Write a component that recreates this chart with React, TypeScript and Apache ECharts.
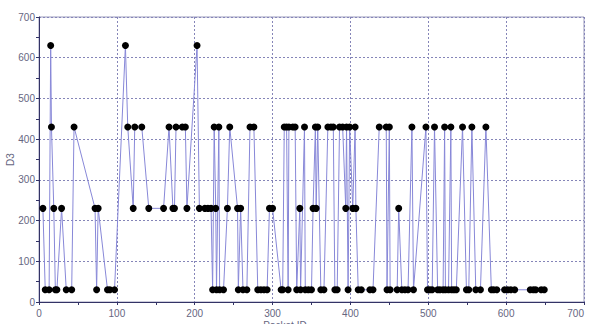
import React, { useEffect, useRef } from "react";
import * as echarts from "echarts";

const packetIds: number[] = [
  5, 8, 13, 15, 16, 19, 21, 23, 29, 35, 42, 45, 72, 74, 76, 88, 91, 97,
  111, 114, 121, 123, 132, 141,
  160, 167, 172, 174, 176, 184, 188, 190, 203, 206, 213, 217, 221, 223, 225, 227, 228, 231, 232, 237, 242, 245,
  255, 256, 259, 262, 267, 271, 276, 281, 285, 289, 293, 296, 300,
  311, 313, 315, 318, 320, 321, 326, 329, 331, 335, 336, 341, 342, 346, 350, 352, 355, 356, 358, 362, 366,
  371, 375, 378, 380, 383, 386, 390, 394, 395, 397, 399, 403, 406, 407, 410, 414,
  425, 429, 437, 446, 447, 450, 451, 460, 462, 466, 470, 474, 479, 481,
  497, 499, 502, 505, 508, 512, 515, 519, 521, 522, 526, 529, 530, 533, 536, 544, 549, 552, 556, 561, 567, 574,
  581, 584, 588, 598, 602, 606, 611, 631, 635, 638, 645, 649,
];

const d3Values: number[] = [
  230, 30, 30, 630, 430, 230, 30, 30, 230, 30, 30, 430, 230, 30, 230, 30, 30, 30,
  630, 430, 230, 430, 430, 230,
  230, 430, 230, 230, 430, 430, 430, 230, 630, 230, 230, 230, 230, 30, 430, 230, 30, 430, 30, 30, 230, 430,
  230, 30, 230, 30, 30, 430, 430, 30, 30, 30, 30, 230, 230,
  30, 30, 430, 430, 30, 430, 430, 430, 30, 230, 30, 430, 30, 30, 30, 230, 430, 230, 430, 30, 30,
  430, 430, 430, 30, 30, 430, 430, 230, 430, 30, 430, 230, 430, 230, 30, 30,
  30, 30, 430, 430, 30, 430, 30, 30, 230, 30, 30, 30, 430, 30,
  430, 30, 30, 30, 430, 30, 30, 30, 430, 30, 30, 430, 30, 30, 30, 430, 30, 30, 430, 30, 30, 430,
  30, 30, 30, 30, 30, 30, 30, 30, 30, 30, 30, 30,
];

const axisColor = "#333366";
const labelColor = "#66667f";
const gridColor = "#8585b8";
const fontFamily = "'Liberation Sans Narrow', 'Liberation Sans', Arial, sans-serif";

export default function App() {
  const ref = useRef<HTMLDivElement>(null);
  useEffect(() => {
    if (!ref.current) return;
    const chart = echarts.init(ref.current, undefined, { renderer: "svg" });
    const data = packetIds.map((x, i) => [x, d3Values[i]]);
    chart.setOption({
      animation: false,
      backgroundColor: "#ffffff",
      grid: {
        left: 39,
        right: 7,
        top: 17,
        bottom: 22,
        containLabel: false,
        outerBoundsMode: "none",
        show: true,
        borderColor: "#9a9abb",
        borderWidth: 1,
        backgroundColor: "transparent",
      },
      graphic: [
        {
          type: "text",
          x: 285,
          y: 320,
          style: {
            text: "Packet ID",
            fill: labelColor,
            font: `10px ${fontFamily}`,
            align: "center",
            verticalAlign: "top",
          },
        },
      ],
      xAxis: {
        type: "value",
        min: 0,
        max: 700,
        interval: 100,
        axisLine: { show: true, lineStyle: { color: axisColor, width: 1 } },
        axisTick: { show: true, length: 3, inside: false, lineStyle: { color: axisColor } },
        minorTick: { show: true, splitNumber: 2, length: 3, lineStyle: { color: axisColor } },
        axisLabel: { color: labelColor, fontSize: 10, fontFamily, margin: 6, alignMaxLabel: "right" },
        splitLine: { show: true, lineStyle: { color: gridColor, type: [2, 2], width: 1 } },
      },
      yAxis: {
        type: "value",
        min: 0,
        max: 700,
        interval: 100,
        name: "D3",
        nameLocation: "middle",
        nameGap: 24,
        nameMoveOverlap: false,
        nameTextStyle: { color: labelColor, fontSize: 10, fontFamily },
        axisLine: { show: true, lineStyle: { color: axisColor, width: 1 } },
        axisTick: { show: true, length: 3, lineStyle: { color: axisColor } },
        minorTick: { show: true, splitNumber: 2, length: 3, lineStyle: { color: axisColor } },
        axisLabel: { color: labelColor, fontSize: 10, fontFamily, margin: 4 },
        splitLine: { show: true, lineStyle: { color: gridColor, type: [2, 2], width: 1 } },
      },
      series: [
        {
          type: "line",
          data,
          symbol: "circle",
          symbolSize: 7,
          itemStyle: { color: "#000000" },
          lineStyle: { color: "#8888d8", width: 1 },
          emphasis: { disabled: true },
        },
      ],
    });
    return () => chart.dispose();
  }, []);
  return (
    <div
      ref={ref}
      style={{ position: "absolute", left: 0, top: 0, width: 591, height: 324 }}
    />
  );
}
